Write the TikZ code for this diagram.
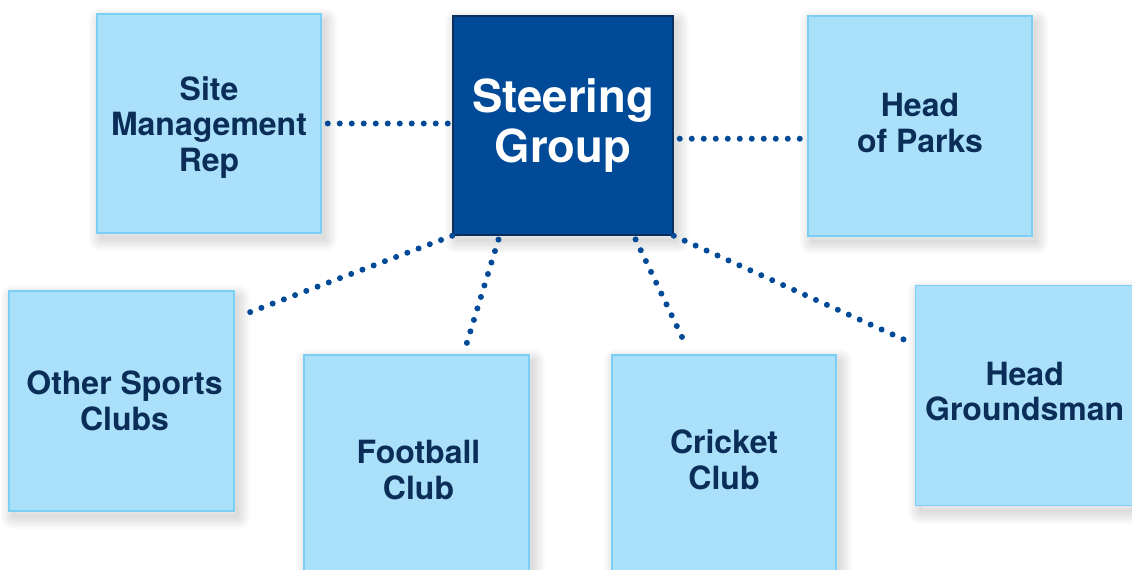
\documentclass[tikz,border=0pt]{standalone}
\usepackage{fontspec}
\setmainfont{TeX Gyre Heros}
\usetikzlibrary{calc}
\definecolor{boxfill}{HTML}{ABE0FA}
\definecolor{boxline}{HTML}{7BCFF5}
\definecolor{sgfill}{HTML}{004A98}
\definecolor{sgline}{HTML}{0B2F5C}
\definecolor{txt}{HTML}{0B2E59}
\definecolor{dotcol}{HTML}{004A98}
\begin{document}
\begin{tikzpicture}[x=1pt,y=-1pt,
  shadowring/.style={preaction={draw=black, draw opacity=.02, line width=#1, line join=round,
    transform canvas={shift={(4pt,-6pt)}}}},
  shadowcore/.style={preaction={fill=black, fill opacity=.02, transform canvas={shift={(4pt,-6pt)}}}},
  softshadow/.style={shadowcore, shadowring=24pt, shadowring=20pt, shadowring=16pt, shadowring=12pt,
    shadowring=8pt, shadowring=4pt},
  box/.style={draw=boxline, line width=1.5pt, fill=boxfill, minimum width=224pt, minimum height=219pt,
    inner sep=0pt, softshadow},
  sgbox/.style={draw=sgline, line width=1.5pt, fill=sgfill, minimum width=220pt, minimum height=219pt,
    inner sep=0pt, softshadow},
  lbl/.style={align=center, text=txt, inner sep=0pt, font=\fontsize{32}{35.5}\selectfont\bfseries},
  sglbl/.style={align=center, text=white, inner sep=0pt, font=\fontsize{45.5}{50}\selectfont\bfseries},
  dotline/.style={draw=dotcol, line width=6pt, line cap=round, dash pattern=on 0pt off 12pt}]
\useasboundingbox (0,0) rectangle (1132,570);
\fill[white] (0,0) rectangle (1132,570);
\clip (0,0) rectangle (1132,570);

% boxes
\node[box] (sr) at (209,123.5) {};
\node[sgbox] (sg) at (563,125.5) {};
\node[box, minimum height=220pt] (hp) at (920,126) {};
\node[box, minimum width=225pt, minimum height=220pt] (os) at (121.5,401) {};
\node[box, minimum width=225pt, minimum height=230pt] (fb) at (416.5,470) {};
\node[box, minimum height=230pt] (cc) at (724,470) {};
\node[box, minimum height=220pt] (hg) at (1027.7,395.5) {};

% labels
\node[lbl] (srt) at ($(sr.center)+(0,4)$) {Site\\Management\\Rep};
\node[sglbl] (sgt) at (sg.center) {Steering\\Group};
\node[lbl] (hpt) at ($(hp.center)+(0,-3)$) {Head\\of Parks};
\node[lbl] (ost) at ($(os.center)+(3,0)$) {Other Sports\\Clubs};
\node[lbl] (fbt) at ($(fb.center)+(2,0)$) {Football\\Club};
\node[lbl] (cct) at ($(cc.center)+(0,-10)$) {Cricket\\Club};
\node[lbl] (hgt) at ($(hg.center)+(-3,-4)$) {Head\\Groundsman};

% connector end points
\coordinate (sgE) at ($(sg.north east)!0.56!(sg.south east)$);
\coordinate (hpW) at (sgE -| hp.west);
\coordinate (sgB1) at ($(sg.south west)!0.214!(sg.south east)$);
\coordinate (sgB2) at ($(sg.south west)!0.82!(sg.south east)$);
\coordinate (osE) at ($(os.north east)!0.125!(os.south east)$);
\coordinate (fbN) at ($(fb.north west)!0.707!(fb.north east)$);
\coordinate (ccN) at ($(cc.north west)!0.35!(cc.north east)$);
\coordinate (hgW) at ($(hg.north west)!0.27!(hg.south west)$);

\draw[dotline, shorten <=6pt, shorten >=4pt] (sr.east) -- (sr.east -| sg.west);
\draw[dotline, shorten <=6pt, shorten >=4pt] (sgE) -- (hpW);
\draw[dotline, shorten >=8pt] (sg.south west) -- (osE);
\draw[dotline, shorten <=4pt, shorten >=6pt] (sgB1) -- (fbN);
\draw[dotline, shorten <=4pt, shorten >=8pt] (sgB2) -- (ccN);
\draw[dotline, shorten >=6pt] (sg.south east) -- (hgW);
\end{tikzpicture}
\end{document}
